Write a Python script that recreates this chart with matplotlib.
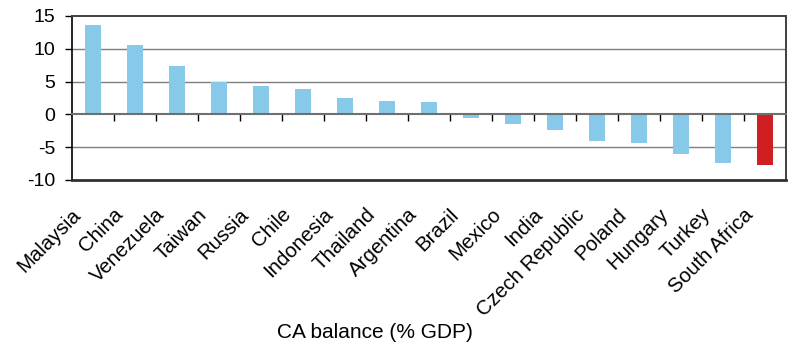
import matplotlib
matplotlib.use("Agg")
import matplotlib.pyplot as plt
import matplotlib.transforms as mtransforms

plt.rcParams['font.family'] = ['Liberation Sans', 'DejaVu Sans']

countries = ["Malaysia", "China", "Venezuela", "Taiwan", "Russia", "Chile",
             "Indonesia", "Thailand", "Argentina", "Brazil", "Mexico", "India",
             "Czech Republic", "Poland", "Hungary", "Turkey", "South Africa"]
ca_balance = [13.7, 10.6, 7.4, 5.0, 4.4, 3.9, 2.5, 2.1, 1.9, -0.6, -1.5, -2.4,
              -4.0, -4.3, -6.1, -7.4, -7.7]
highlight = "South Africa"
y_ticks = [-10, -5, 0, 5, 10, 15]

blue = "#87C9E8"
red = "#D01F22"

fig = plt.figure(figsize=(7.91, 3.47), dpi=100)
ax = fig.add_axes([72 / 791, 1 - 180 / 347, (786 - 72) / 791, (180 - 16) / 347])

x = list(range(len(countries)))
colors = [red if c == highlight else blue for c in countries]
ax.bar(x, ca_balance, width=0.4, color=colors, zorder=3)

ax.set_xlim(-0.5, len(countries) - 0.5)
ax.set_ylim(y_ticks[0], y_ticks[-1])
ax.set_yticks(y_ticks)
ax.set_yticklabels([str(v) for v in y_ticks], fontsize=14)
ax.tick_params(axis='y', direction='out', length=5, width=1, pad=7, colors='#000000')

# horizontal gridlines
for v in y_ticks[1:-1]:
    if v != 0:
        ax.axhline(v, color='#7f7f7f', lw=1.0, zorder=1)

# frame
for side in ['top', 'right']:
    ax.spines[side].set_color('#404040')
    ax.spines[side].set_linewidth(1.4)
ax.spines['left'].set_color('#000000')
ax.spines['left'].set_linewidth(1.2)

# category axis runs along zero
ax.spines['bottom'].set_position(('data', 0))
ax.spines['bottom'].set_color('#6f6f6f')
ax.spines['bottom'].set_linewidth(1.5)
ax.spines['bottom'].set_zorder(4)
ax.set_xticks([i + 0.5 for i in x[:-1]])
ax.tick_params(axis='x', direction='out', length=5, width=1, labelbottom=False,
               colors='#000000')
ax.axhline(y_ticks[0], color='#303030', lw=2.0, zorder=4, clip_on=False)

# rotated category labels below the plot frame
trans = mtransforms.blended_transform_factory(ax.transData, ax.transAxes)
for i, name in zip(x, countries):
    ax.annotate(name, xy=(i, 0), xycoords=trans, xytext=(-6, -18),
                textcoords='offset points', rotation=45, ha='right', va='top',
                fontsize=14.8, rotation_mode='default')

fig.text(375 / 791, 1 - 332 / 347, "CA balance (% GDP)", ha='center', va='center',
         fontsize=15)

fig.savefig("out.png", dpi=100)
